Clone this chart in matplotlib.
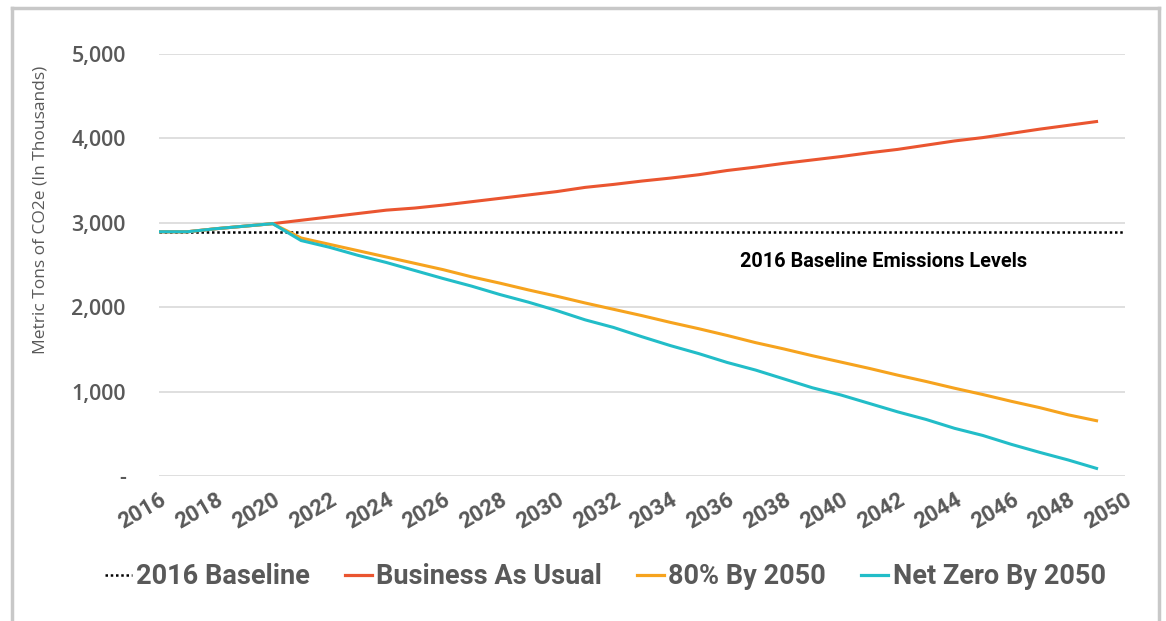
import matplotlib.pyplot as plt
from matplotlib.lines import Line2D
from matplotlib.ticker import FuncFormatter

# ---------------------------------------------------------------------------
# Data (metric tons CO2e, thousands)
# ---------------------------------------------------------------------------
years = list(range(2016, 2050))

baseline_2016 = 2894

business_as_usual = [2894, 2894, 2930, 2960, 2990, 3030, 3070, 3110, 3150, 3175,
                     3210, 3250, 3290, 3330, 3370, 3420, 3455, 3495, 3530, 3570,
                     3620, 3660, 3705, 3745, 3785, 3830, 3870, 3920, 3970, 4010,
                     4060, 4110, 4155, 4200]

pct80_by_2050 = [2894, 2894, 2930, 2960, 2990, 2820, 2745, 2670, 2595, 2520,
                 2445, 2360, 2285, 2205, 2130, 2050, 1975, 1900, 1820, 1745,
                 1665, 1580, 1505, 1425, 1350, 1275, 1195, 1120, 1040, 965,
                 885, 810, 725, 655]

net_zero_by_2050 = [2894, 2894, 2930, 2960, 2990, 2790, 2710, 2615, 2530, 2435,
                    2340, 2250, 2150, 2060, 1960, 1850, 1760, 1650, 1545, 1450,
                    1345, 1255, 1150, 1045, 960, 860, 760, 670, 565, 480,
                    375, 280, 190, 90]

tick_years = list(range(2016, 2051, 2))
y_ticks = [0, 1000, 2000, 3000, 4000, 5000]

RED = '#EA5530'
ORANGE = '#F6A31E'
CYAN = '#22BDC8'
GREY = '#595959'

narrow = ['Roboto', 'DejaVu Sans']
sans = ['Open Sans', 'DejaVu Sans']

# ---------------------------------------------------------------------------
# Plot
# ---------------------------------------------------------------------------
fig = plt.figure(figsize=(11.66, 6.21), dpi=100)
ax = fig.add_axes([0.1364, 0.2335, 0.8284, 0.6795])

ax.axhline(baseline_2016, color='black', linewidth=1.8,
           linestyle=(0, (1, 1.1)), zorder=2)
ax.plot(years, business_as_usual, color=RED, linewidth=2.2, zorder=3,
        solid_joinstyle='round')
ax.plot(years, pct80_by_2050, color=ORANGE, linewidth=2.2, zorder=3,
        solid_joinstyle='round')
ax.plot(years, net_zero_by_2050, color=CYAN, linewidth=2.2, zorder=4,
        solid_joinstyle='round')

ax.text(2041.5, 2540, '2016 Baseline Emissions Levels', ha='center',
        va='center', fontsize=14.3, fontweight='bold', family=narrow,
        color='black')

ax.set_xlim(2016, 2050)
ax.set_ylim(0, 5000)

ax.set_yticks(y_ticks)
ax.yaxis.set_major_formatter(
    FuncFormatter(lambda v, _: '-' if v == 0 else f'{v:,.0f}'))
ax.set_xticks(tick_years)
ax.set_xticklabels([str(y) for y in tick_years], rotation=30, ha='right',
                   rotation_mode='anchor', fontsize=16, fontweight='bold',
                   family=narrow, color=GREY)
for lbl in ax.get_yticklabels():
    lbl.set_family(sans)
    lbl.set_fontweight('semibold')
    lbl.set_fontsize(15.5)
    lbl.set_color(GREY)

ax.tick_params(axis='both', length=0)
ax.tick_params(axis='y', pad=24)
ax.tick_params(axis='x', pad=9)

ax.grid(True, axis='y', color='#d9d9d9', linewidth=1.2, zorder=0)
for s in ax.spines.values():
    s.set_visible(False)

ax.set_ylabel('Metric Tons of CO2e (In Thousands)', fontsize=12.5,
              family=sans, color=GREY)
ax.yaxis.set_label_coords(-0.114, 0.63)

handles = [
    Line2D([], [], color='black', linewidth=1.8, linestyle=(0, (1, 1.1))),
    Line2D([], [], color=RED, linewidth=2.3),
    Line2D([], [], color=ORANGE, linewidth=2.3),
    Line2D([], [], color=CYAN, linewidth=2.3),
]
labels = ['2016 Baseline', 'Business As Usual', '80% By 2050', 'Net Zero By 2050']
leg = fig.legend(handles, labels, loc='center', bbox_to_anchor=(0.519, 0.071),
                 ncol=4, frameon=False, handlelength=1.0, handletextpad=0.15,
                 columnspacing=1.3,
                 prop={'family': narrow, 'weight': 'bold', 'size': 19.5})
for t in leg.get_texts():
    t.set_color(GREY)

# outer chart border
border = dict(color='#c8c8c8', linewidth=2.5, transform=fig.transFigure)
fig.add_artist(Line2D([12 / 1166, 1159 / 1166], [1 - 8 / 621, 1 - 8 / 621], **border))
fig.add_artist(Line2D([12 / 1166, 12 / 1166], [0, 1 - 8 / 621], **border))
fig.add_artist(Line2D([1159 / 1166, 1159 / 1166], [0, 1 - 8 / 621], **border))

fig.savefig('out.png', dpi=100, facecolor='white')
